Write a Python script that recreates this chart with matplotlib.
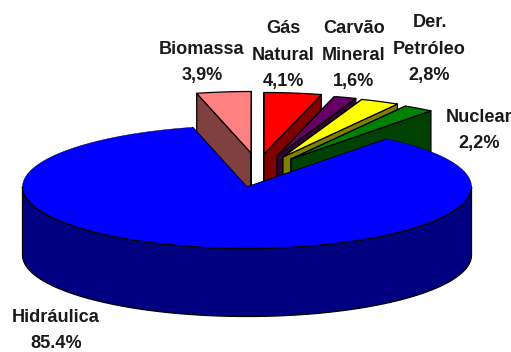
import numpy as np
import matplotlib
matplotlib.use("Agg")
import matplotlib.pyplot as plt
from matplotlib.patches import Polygon

# Share of each source, clockwise from the top of the pie
sources = ["Biomassa", "Gás\nNatural", "Carvão\nMineral", "Der.\nPetróleo", "Nuclear", "Hidráulica"]
shares = [3.9, 4.1, 1.6, 2.8, 2.2, 85.4]
share_labels = ["3,9%", "4,1%", "1,6%", "2,8%", "2,2%", "85.4%"]

top_colors = ["#FF8080", "#FF0000", "#660066", "#FFFF00", "#008000", "#0000FF"]
side_colors = ["#804040", "#800000", "#330033", "#808000", "#004000", "#000080"]

# Geometry of the tilted pie, in pixels
RX, RY = 224.5, 61.5
DEPTH = 68.0
START_ANGLE = 104.0
APEXES = [(251, 153), (264, 154), (277, 156), (283, 157), (291, 159), (247, 187)]
LABEL_POS = [(202, 62.5), (283.5, 55), (354, 55), (429.5, 49), (479, 130.5), (56, 330.5)]

fig = plt.figure(figsize=(5.11, 3.52), dpi=100)
ax = fig.add_axes([0, 0, 1, 1])
ax.set_xlim(0, 511)
ax.set_ylim(352, 0)
ax.axis("off")


def rim(apex, a_from, a_to):
    """Points along the outer edge between two angles, in degrees."""
    t = np.radians(np.linspace(a_from, a_to, max(int(abs(a_to - a_from)) * 2, 8)))
    return np.column_stack([apex[0] + RX * np.cos(t), apex[1] - RY * np.sin(t)])


def poly(points, color, z, lw=0.9):
    ax.add_patch(Polygon(points, closed=True, facecolor=color, edgecolor="black",
                         linewidth=lw, joinstyle="round", zorder=z))


# Wedge limits come from the cumulative shares, running clockwise
edges = START_ANGLE - np.concatenate([[0], np.cumsum(shares)]) * 3.6
down = np.array([0, DEPTH])

for i in range(len(shares)):
    a0, a1 = edges[i], edges[i + 1]
    apex = np.array(APEXES[i], dtype=float)
    arc = rim(apex, a0, a1)
    z = 1 + i
    is_main = a0 - a1 > 180

    # Radial side walls
    for p in (arc[0], arc[-1]):
        poly([apex, p, p + down, apex + down], side_colors[i], z)

    # The large slice shows its outer wall along the whole front half
    if is_main:
        front = rim(apex, -180, 0)
        poly(np.vstack([front, (front + down)[::-1]]), side_colors[i], z)

    # Top face; the large slice keeps a fine line along its back edge
    poly(np.vstack([apex, arc]), top_colors[i], z + 0.5, lw=0.3 if is_main else 0.9)
    if is_main:
        ax.plot(front[:, 0], front[:, 1], color="black", lw=0.9, zorder=z + 0.6)

# Labels: source name above its share
for name, share, (x, y) in zip(sources, share_labels, LABEL_POS):
    ax.text(x, y, f"{name}\n{share}", ha="center", va="center", multialignment="center",
            family="Liberation Sans", fontweight="bold", fontsize=13.1,
            linespacing=1.72, color="#1a1a1a", zorder=20)

fig.savefig("out.png", dpi=100)
